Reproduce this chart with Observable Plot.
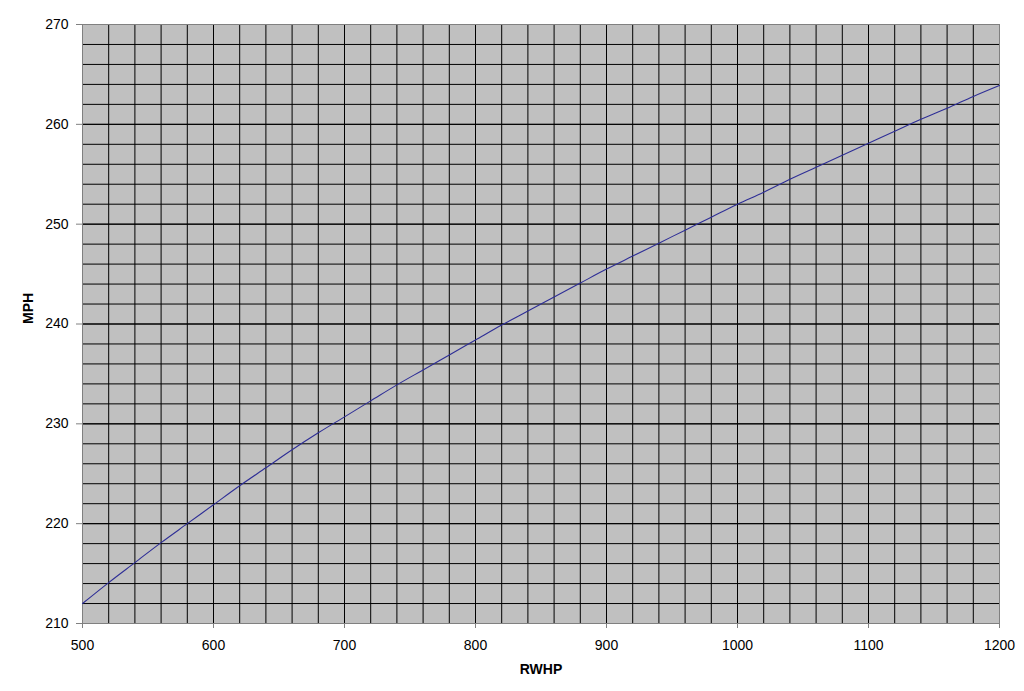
<!DOCTYPE html>
<html>
<head>
<meta charset="utf-8">
<script src="https://cdn.jsdelivr.net/npm/d3@7"></script>
<script src="https://cdn.jsdelivr.net/npm/@observablehq/plot@0.6"></script>
<style>
  html, body { margin: 0; padding: 0; background: #ffffff; }
  #chart svg { display: block; }
</style>
</head>
<body>
<div id="chart"></div>
<script>
// RWHP (rear-wheel horsepower) vs MPH
const rwhp = [500, 520, 540, 560, 580, 600, 620, 640, 660, 680, 700, 720, 740, 760, 780, 800, 820, 840, 860, 880, 900, 920, 940, 960, 980, 1000, 1020, 1040, 1060, 1080, 1100, 1120, 1140, 1160, 1180, 1200];
const mph = [212.0, 214.1, 216.1, 218.1, 220.0, 221.9, 223.8, 225.6, 227.4, 229.1, 230.7, 232.3, 233.9, 235.4, 236.9, 238.4, 239.9, 241.3, 242.7, 244.1, 245.5, 246.8, 248.1, 249.4, 250.7, 252.0, 253.2, 254.5, 255.7, 256.9, 258.1, 259.3, 260.5, 261.6, 262.8, 263.9];

const xTicks = [500, 600, 700, 800, 900, 1000, 1100, 1200];
const yTicks = [210, 220, 230, 240, 250, 260, 270];
const xGrid = [520, 540, 560, 580, 600, 620, 640, 660, 680, 700, 720, 740, 760, 780, 800, 820, 840, 860, 880, 900, 920, 940, 960, 980, 1000, 1020, 1040, 1060, 1080, 1100, 1120, 1140, 1160, 1180];
const yGrid = [212, 214, 216, 218, 220, 222, 224, 226, 228, 230, 232, 234, 236, 238, 240, 242, 244, 246, 248, 250, 252, 254, 256, 258, 260, 262, 264, 266, 268];
const xLabel = "RWHP";
const yLabel = "MPH";

const data = rwhp.map((x, i) => ({x, y: mph[i]}));

const chart = Plot.plot({
  width: 1024,
  height: 691,
  marginLeft: 82,
  marginRight: 25,
  marginTop: 24,
  marginBottom: 68,
  style: {fontFamily: "Arial, 'Liberation Sans', sans-serif", fontSize: "14px", background: "#ffffff", color: "#000000"},
  x: {domain: [500, 1200]},
  y: {domain: [210, 270]},
  marks: [
    Plot.frame({fill: "#c0c0c0", stroke: "none"}),
    Plot.ruleX(xGrid, {stroke: "#000000", strokeWidth: 1}),
    Plot.ruleY(yGrid, {stroke: "#000000", strokeWidth: 1}),
    Plot.ruleY(yTicks, {stroke: "#000000", strokeWidth: 1}),
    Plot.frame({stroke: "#808080", strokeWidth: 1}),
    Plot.axisX({ticks: xTicks, tickSize: 5, tickPadding: 12, stroke: "#808080", label: null, tickFormat: d => String(d), fontSize: 14}),
    Plot.axisY({ticks: yTicks, tickSize: 6, tickPadding: 8, stroke: "#808080", label: null, tickFormat: d => String(d), fontSize: 14}),
    Plot.line(data, {x: "x", y: "y", stroke: "#2e2e96", strokeWidth: 1.1, curve: "monotone-x"}),
    Plot.text([yLabel], {frameAnchor: "left", dx: -54, rotate: -90, fontWeight: "bold", fontSize: 14, fill: "#000000"}),
    Plot.text([xLabel], {frameAnchor: "bottom", dy: 50, fontWeight: "bold", fontSize: 14, fill: "#000000"})
  ]
});
document.getElementById("chart").appendChild(chart);
</script>
</body>
</html>
